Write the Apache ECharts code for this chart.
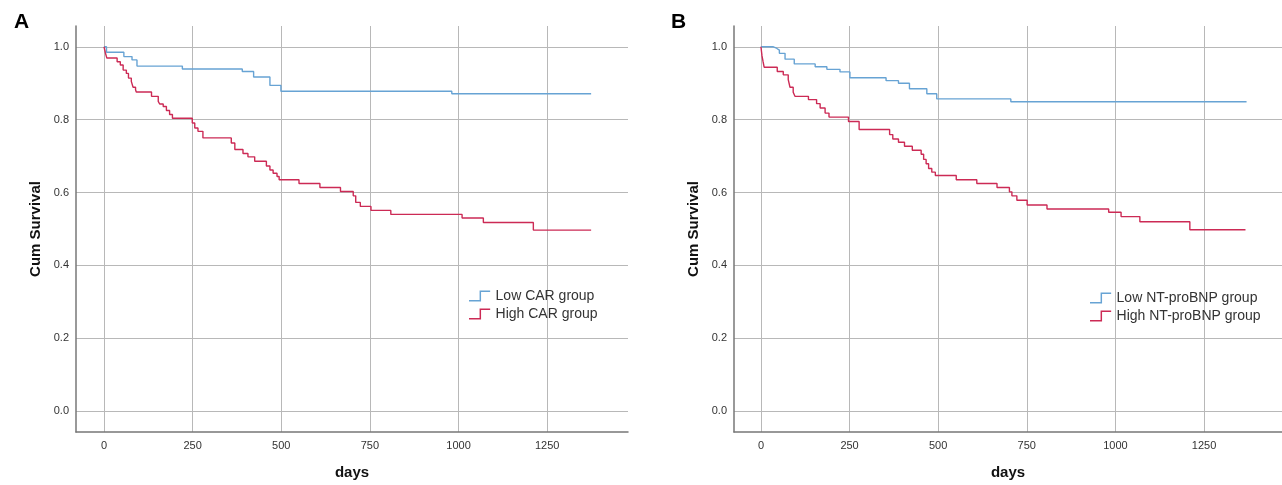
<!DOCTYPE html>
<html><head><meta charset="utf-8">
<script src="https://cdn.jsdelivr.net/npm/echarts@6/dist/echarts.min.js"></script>
<style>html,body{margin:0;padding:0;background:#fff}#c{width:1282px;height:485px}</style>
</head><body><div id="c"></div>
<script>
// Tick labels
const xTicks = [0, 250, 500, 750, 1000, 1250];
const yTicks = [0, 0.2, 0.4, 0.6, 0.8, 1.0];

// Panel A: CAR groups (days, cumulative survival)
const lowCarDays = [0, 7, 56, 79, 93, 221, 390, 422, 468, 499, 981, 1374];
const lowCarSurv = [1.0, 0.985, 0.973, 0.964, 0.947, 0.939, 0.932, 0.917, 0.894, 0.878, 0.871, 0.871];
const highCarDays = [0, 4, 8, 37, 46, 54, 63, 69, 77, 82, 89, 91, 134, 153, 157, 167, 176, 185, 193, 249, 256, 265, 279, 359, 369, 392, 406, 425, 458, 468, 477, 488, 494, 550, 609, 667, 703, 710, 723, 753, 809, 1010, 1070, 1211, 1374];
const highCarSurv = [1.0, 0.983, 0.969, 0.959, 0.950, 0.936, 0.927, 0.914, 0.905, 0.889, 0.882, 0.876, 0.864, 0.850, 0.843, 0.836, 0.825, 0.814, 0.804, 0.791, 0.777, 0.768, 0.750, 0.736, 0.718, 0.707, 0.698, 0.686, 0.673, 0.662, 0.653, 0.644, 0.635, 0.625, 0.614, 0.603, 0.591, 0.573, 0.562, 0.551, 0.540, 0.530, 0.518, 0.497, 0.497];

// Panel B: NT-proBNP groups
const lowBnpDays = [0, 35, 44, 52, 68, 94, 153, 186, 223, 251, 353, 388, 419, 468, 496, 705, 1370];
const lowBnpSurv = [1.0, 0.996, 0.991, 0.982, 0.966, 0.953, 0.945, 0.938, 0.931, 0.915, 0.907, 0.900, 0.885, 0.871, 0.857, 0.849, 0.849];
const highBnpDays = [0, 3, 6, 9, 46, 63, 77, 82, 91, 96, 134, 157, 167, 181, 192, 247, 277, 363, 372, 388, 405, 427, 452, 459, 466, 473, 482, 492, 551, 609, 666, 701, 708, 722, 751, 807, 981, 1016, 1069, 1210, 1367];
const highBnpSurv = [1.0, 0.975, 0.959, 0.944, 0.932, 0.923, 0.910, 0.889, 0.875, 0.864, 0.855, 0.844, 0.832, 0.818, 0.807, 0.795, 0.773, 0.759, 0.747, 0.738, 0.727, 0.716, 0.705, 0.691, 0.679, 0.666, 0.656, 0.647, 0.635, 0.625, 0.614, 0.602, 0.591, 0.579, 0.566, 0.555, 0.546, 0.534, 0.520, 0.498, 0.498];

const names = ['Low CAR group', 'High CAR group', 'Low NT-proBNP group', 'High NT-proBNP group'];
const BLUE = '#67a3d4', RED = '#cc2a55';

function zip(a, b) { return a.map((v, i) => [v, b[i]]); }

const stepIcon = 'path://M0,9 L10,9 L10,0 L20,0 L20,1.4 L11.4,1.4 L11.4,10.4 L0,10.4 Z';

function xAxis(idx, min, max) {
  return {
    type: 'value', gridIndex: idx, min: min, max: max,
    name: 'days', nameLocation: 'middle', nameGap: 33,
    nameTextStyle: { fontFamily: 'Liberation Sans', fontWeight: 'bold', fontSize: 15, color: '#111' },
    axisLine: { show: true, onZero: false, lineStyle: { color: '#777', width: 1.5 } },
    axisTick: { show: false, customValues: xTicks },
    axisLabel: { customValues: xTicks, margin: 8, fontFamily: 'Liberation Sans', fontSize: 11, color: '#333',
      formatter: v => String(v) },
    splitLine: { show: true, lineStyle: { color: '#b8b8b8', width: 1 } }
  };
}
function yAxis(idx) {
  return {
    type: 'value', gridIndex: idx, min: -0.057, max: 1.057,
    name: 'Cum Survival', nameLocation: 'middle', nameGap: 33, nameRotate: 90,
    nameTextStyle: { fontFamily: 'Liberation Sans', fontWeight: 'bold', fontSize: 15, color: '#111' },
    axisLine: { show: true, onZero: false, lineStyle: { color: '#777', width: 1.5 } },
    axisTick: { show: false, customValues: yTicks },
    axisLabel: { customValues: yTicks, margin: 7, fontFamily: 'Liberation Sans', fontSize: 11, color: '#333',
      formatter: v => v.toFixed(1) },
    splitLine: { show: true, lineStyle: { color: '#b8b8b8', width: 1 } }
  };
}
function series(name, idx, days, surv, color) {
  return {
    name: name, type: 'line', step: 'end', xAxisIndex: idx, yAxisIndex: idx,
    data: zip(days, surv), showSymbol: false, symbol: 'none',
    lineStyle: { color: color, width: 1.4 }, itemStyle: { color: color },
    animation: false
  };
}

const chart = echarts.init(document.getElementById('c'), null, { renderer: 'canvas' });
chart.setOption({
  animation: false,
  backgroundColor: '#fff',
  title: [
    { text: 'A', left: 9, top: 7, textStyle: { fontFamily: 'Liberation Sans', fontWeight: 'bold', fontSize: 21, color: '#000' } },
    { text: 'B', left: 666, top: 7, textStyle: { fontFamily: 'Liberation Sans', fontWeight: 'bold', fontSize: 21, color: '#000' } }
  ],
  grid: [
    { left: 76, top: 26, width: 552, height: 409 },
    { left: 734, top: 26, width: 548, height: 409 }
  ],
  xAxis: [xAxis(0, -79, 1478), xAxis(1, -76, 1470)],
  yAxis: [yAxis(0), yAxis(1)],
  legend: [
    { data: [names[0], names[1]], left: 464, top: 284, orient: 'vertical', itemGap: 4, itemWidth: 22, itemHeight: 11,
      icon: stepIcon, textStyle: { fontFamily: 'Liberation Sans', fontSize: 14, color: '#333' } },
    { data: [names[2], names[3]], left: 1085, top: 286, orient: 'vertical', itemGap: 4, itemWidth: 22, itemHeight: 11,
      icon: stepIcon, textStyle: { fontFamily: 'Liberation Sans', fontSize: 14, color: '#333' } }
  ],
  series: [
    series(names[0], 0, lowCarDays, lowCarSurv, BLUE),
    series(names[1], 0, highCarDays, highCarSurv, RED),
    series(names[2], 1, lowBnpDays, lowBnpSurv, BLUE),
    series(names[3], 1, highBnpDays, highBnpSurv, RED)
  ]
});
</script></body></html>
